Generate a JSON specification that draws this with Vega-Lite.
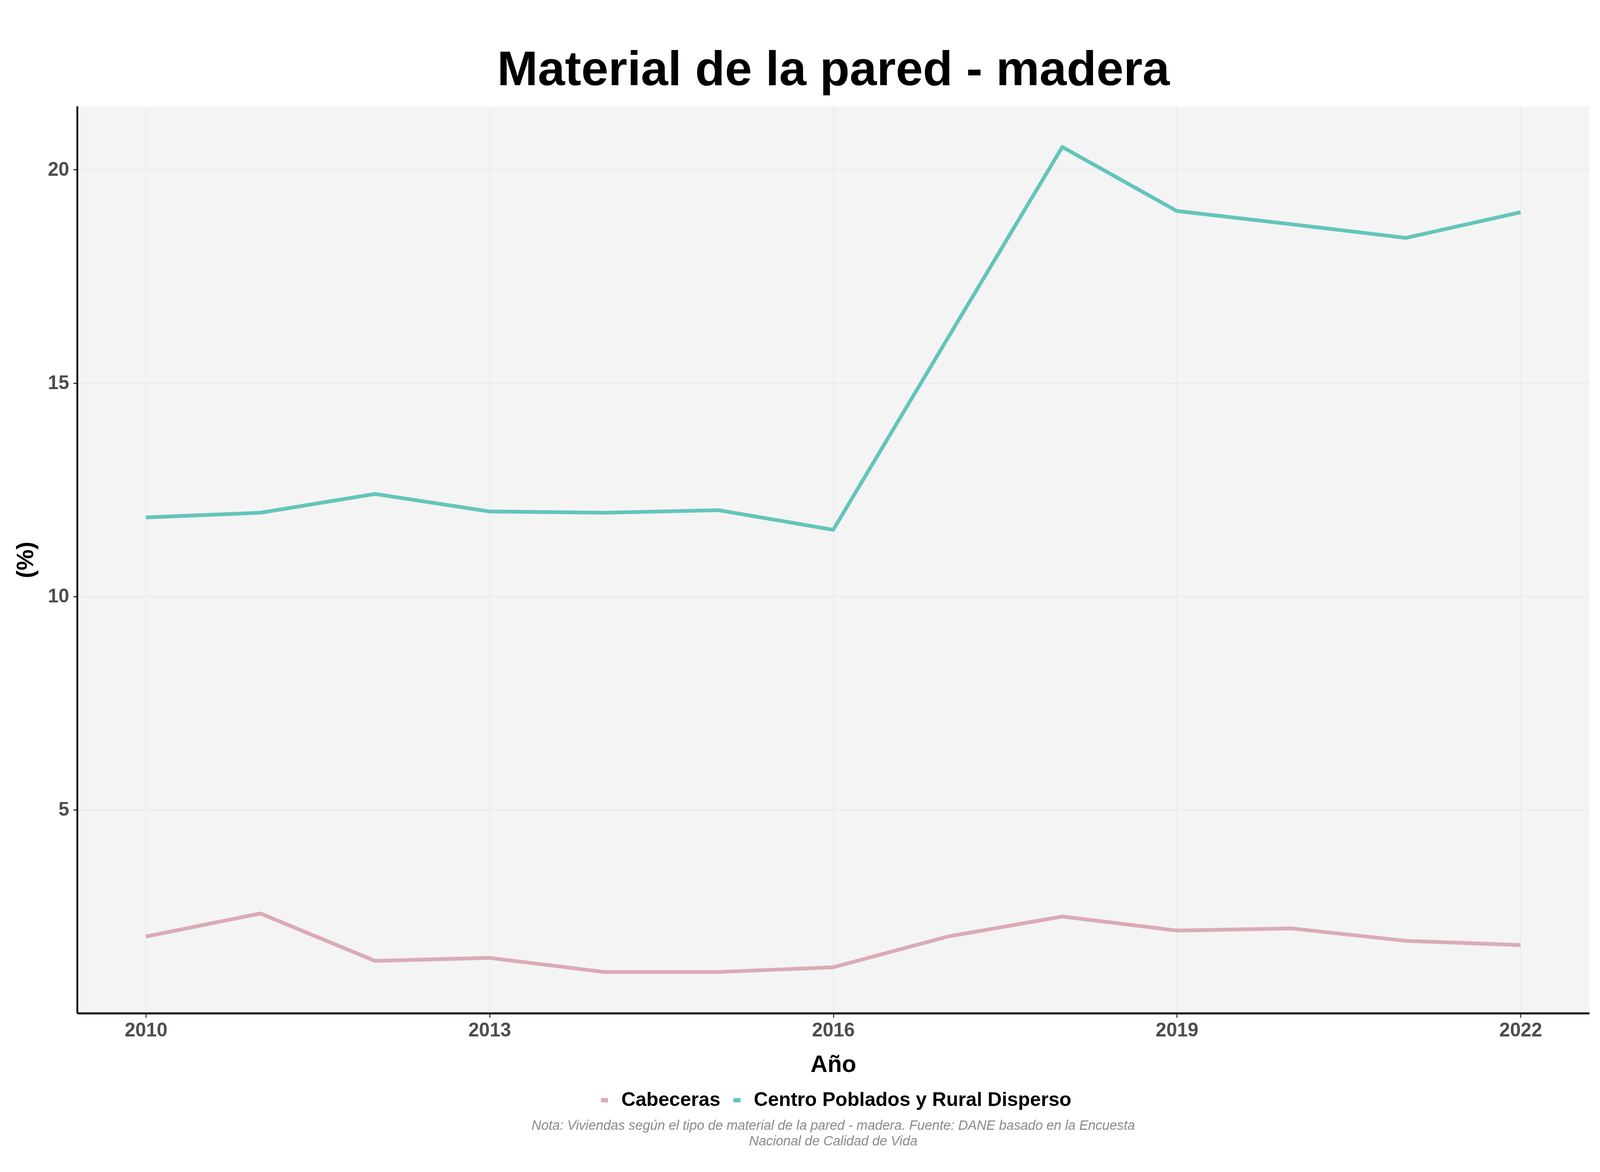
{
  "$schema": "https://vega.github.io/schema/vega-lite/v6.json",
  "width": 4102,
  "height": 3000,
  "autosize": {"type": "fit", "contains": "padding"},
  "padding": {"left": 35.5, "top": 116.8, "right": 33.5, "bottom": 61.4},
  "background": "white",
  "config": {
    "font": "Liberation Sans",
    "view": {"fill": "#F4F4F4", "stroke": null},
    "legend": {"layout": {"bottom": {"anchor": "middle"}}}
  },
  "title": {
    "text": [
      "Nota: Viviendas según el tipo de material de la pared - madera. Fuente: DANE basado en la Encuesta",
      "Nacional de Calidad de Vida"
    ],
    "orient": "bottom",
    "anchor": "middle",
    "frame": "group",
    "fontSize": 34.2,
    "fontStyle": "italic",
    "fontWeight": "normal",
    "color": "#8C8C8C",
    "lineHeight": 40,
    "offset": 22.7
  },
  "data": {
    "values": [
      {"anio": 2010, "zona": "Cabeceras", "valor": 2.03},
      {"anio": 2011, "zona": "Cabeceras", "valor": 2.57},
      {"anio": 2012, "zona": "Cabeceras", "valor": 1.46},
      {"anio": 2013, "zona": "Cabeceras", "valor": 1.53},
      {"anio": 2014, "zona": "Cabeceras", "valor": 1.2},
      {"anio": 2015, "zona": "Cabeceras", "valor": 1.2},
      {"anio": 2016, "zona": "Cabeceras", "valor": 1.31},
      {"anio": 2017, "zona": "Cabeceras", "valor": 2.03},
      {"anio": 2018, "zona": "Cabeceras", "valor": 2.5},
      {"anio": 2019, "zona": "Cabeceras", "valor": 2.17},
      {"anio": 2020, "zona": "Cabeceras", "valor": 2.22},
      {"anio": 2021, "zona": "Cabeceras", "valor": 1.93},
      {"anio": 2022, "zona": "Cabeceras", "valor": 1.83},
      {"anio": 2010, "zona": "Centro Poblados y Rural Disperso", "valor": 11.85},
      {"anio": 2011, "zona": "Centro Poblados y Rural Disperso", "valor": 11.96},
      {"anio": 2012, "zona": "Centro Poblados y Rural Disperso", "valor": 12.4},
      {"anio": 2013, "zona": "Centro Poblados y Rural Disperso", "valor": 11.99},
      {"anio": 2014, "zona": "Centro Poblados y Rural Disperso", "valor": 11.96},
      {"anio": 2015, "zona": "Centro Poblados y Rural Disperso", "valor": 12.02},
      {"anio": 2016, "zona": "Centro Poblados y Rural Disperso", "valor": 11.56},
      {"anio": 2017, "zona": "Centro Poblados y Rural Disperso", "valor": 16.05},
      {"anio": 2018, "zona": "Centro Poblados y Rural Disperso", "valor": 20.53},
      {"anio": 2019, "zona": "Centro Poblados y Rural Disperso", "valor": 19.03},
      {"anio": 2020, "zona": "Centro Poblados y Rural Disperso", "valor": 18.72},
      {"anio": 2021, "zona": "Centro Poblados y Rural Disperso", "valor": 18.4},
      {"anio": 2022, "zona": "Centro Poblados y Rural Disperso", "valor": 19.0}
    ]
  },
  "resolve": {"axis": {"x": "independent"}},
  "layer": [
    {
      "mark": {"type": "line", "strokeWidth": 9.6, "strokeJoin": "round", "strokeCap": "butt"},
      "encoding": {
        "x": {
          "field": "anio",
          "type": "quantitative",
          "scale": {"domain": [2009.4, 2022.6], "nice": false, "zero": false},
          "axis": {
            "orient": "bottom",
            "title": "Año",
            "values": [2010, 2013, 2016, 2019, 2022],
            "format": "d",
            "labelFontSize": 49.2,
            "labelFontWeight": "bold",
            "labelColor": "#4D4D4D",
            "labelPadding": 8.4,
            "labelFlush": false,
            "labelOverlap": false,
            "tickSize": 11,
            "tickWidth": 2.7,
            "tickColor": "#333333",
            "domainColor": "black",
            "domainWidth": 5,
            "grid": true,
            "gridColor": "#EAEAEA",
            "gridWidth": 2.3,
            "titleFontSize": 60.2,
            "titleFontWeight": "bold",
            "titleColor": "black",
            "titleBaseline": "alphabetic",
            "titleY": 149.5
          }
        },
        "y": {
          "field": "valor",
          "type": "quantitative",
          "scale": {"domain": [0.233, 21.486], "nice": false, "zero": false},
          "axis": {
            "title": "(%)",
            "values": [5, 10, 15, 20],
            "labelFontSize": 49.2,
            "labelFontWeight": "bold",
            "labelColor": "#4D4D4D",
            "labelPadding": 10.9,
            "tickSize": 10,
            "tickWidth": 3,
            "tickColor": "#333333",
            "domainColor": "black",
            "domainWidth": 4.6,
            "grid": true,
            "gridColor": "#EAEAEA",
            "gridWidth": 2.5,
            "titleFontSize": 60.2,
            "titleFontWeight": "bold",
            "titleColor": "black",
            "titleAngle": -90,
            "titleAlign": "center",
            "titleBaseline": "middle",
            "titleX": -131.3
          }
        },
        "color": {
          "field": "zona",
          "type": "nominal",
          "scale": {
            "domain": ["Cabeceras", "Centro Poblados y Rural Disperso"],
            "range": ["#DBAAB6", "#63C5BB"]
          },
          "legend": {
            "orient": "bottom",
            "direction": "horizontal",
            "title": null,
            "offset": 34.5,
            "padding": 0,
            "labelFontSize": 50.1,
            "labelFontWeight": "bold",
            "labelColor": "black",
            "labelLimit": 2000,
            "labelOffset": 18.2,
            "columnPadding": 10,
            "symbolType": "stroke",
            "symbolSize": 332,
            "symbolStrokeWidth": 11
          }
        }
      }
    },
    {
      "mark": {"type": "point", "opacity": 0, "size": 0},
      "encoding": {
        "x": {
          "field": "anio",
          "type": "quantitative",
          "scale": {"domain": [2009.4, 2022.6], "nice": false, "zero": false},
          "axis": {
            "orient": "top",
            "title": "Material de la pared - madera",
            "titleFontSize": 124.9,
            "titleFontWeight": "bold",
            "titleColor": "black",
            "titleBaseline": "alphabetic",
            "titleY": -54.3,
            "domain": false,
            "ticks": false,
            "labels": false,
            "grid": false
          }
        }
      }
    }
  ]
}
